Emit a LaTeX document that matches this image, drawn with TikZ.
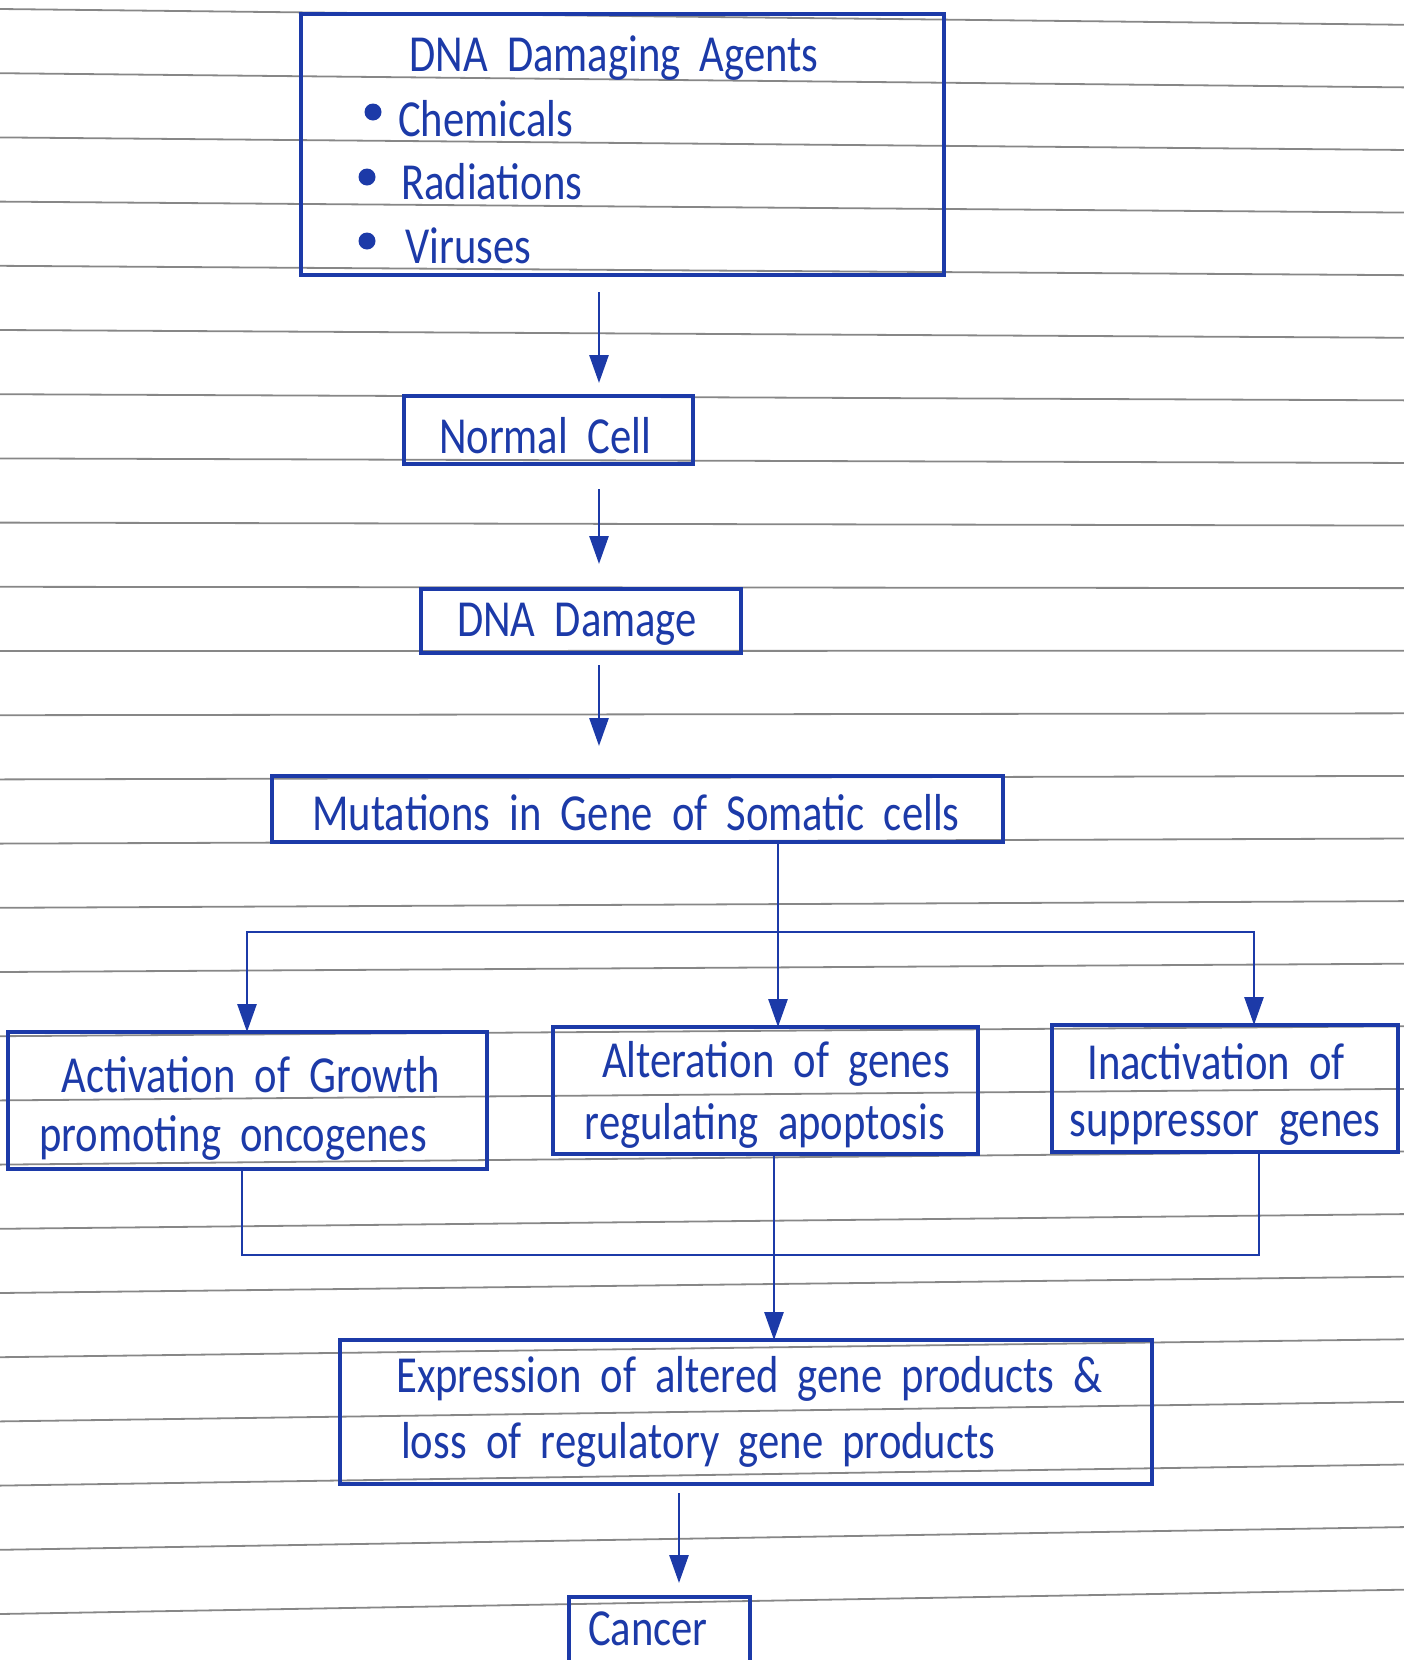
\documentclass[tikz,border=0pt]{standalone}
\usepackage{fontspec}
\setmainfont{Carlito}[FakeStretch=0.82, WordSpace=2]
\usetikzlibrary{calc,arrows.meta}
\definecolor{ink}{RGB}{28,58,168}
\definecolor{rulecol}{RGB}{135,135,135}
\begin{document}
\begin{tikzpicture}[x=1pt,y=-1pt,
  box/.style={draw=ink, line width=3.2pt, inner sep=0pt, outer sep=0pt, rectangle},
  txt/.style={text=ink, font=\fontsize{52}{62}\selectfont, inner sep=0pt},
  conn/.style={draw=ink, line width=2.8pt},
  arr/.style={conn, -{Triangle[length=28pt,width=19pt]}},
  ruled/.style={draw=rulecol, line width=1.8pt}]
\useasboundingbox (0,0) rectangle (1404,1660);
\clip (0,0) rectangle (1404,1660);
% lined paper
\foreach \k in {0,...,25} {
  \pgfmathsetmacro\L{9+64.2*\k}
  \pgfmathsetmacro\R{\L+16-0.025*\L}
  \draw[ruled] (0,\L) -- (1404,\R);
}
% boxes
\node[box, minimum width=643pt, minimum height=261pt] (agents) at (622.5,144.5) {};
\node[box, minimum width=289pt, minimum height=68pt] (normal) at (548.5,430) {};
\node[box, minimum width=320pt, minimum height=64pt] (damage) at (581,621) {};
\node[box, minimum width=731pt, minimum height=66pt] (mut) at (637.5,809) {};
\node[box, minimum width=479pt, minimum height=137pt] (act) at (247.5,1100.5) {};
\node[box, minimum width=425pt, minimum height=127pt] (alt) at (765.5,1090.5) {};
\node[box, minimum width=346pt, minimum height=127pt] (inact) at (1225,1088.5) {};
\node[box, minimum width=812pt, minimum height=144pt] (expr) at (746,1412) {};
\node[box, minimum width=181pt, minimum height=103pt] (cancer) at (659.5,1648.5) {};
% texts
\node[txt] (tagents) at (614,58) {DNA Damaging Agents};
\node[txt, anchor=west] (tchem) at (398,119) {Chemicals};
\node[txt, anchor=west] (trad) at (401,182) {Radiations};
\node[txt, anchor=west] (tvir) at (405,246) {Viruses};
\fill[ink] (373,112) circle (8.5);
\fill[ink] (367,177) circle (8.5);
\fill[ink] (367,241) circle (8.5);
\node[txt] (tnormal) at (545,436) {Normal Cell};
\node[txt] (tdamage) at (577,624) {DNA Damage};
\node[txt] (tmut) at (636,813) {Mutations in Gene of Somatic cells};
\node[txt] (tact1) at (251,1075) {Activation of Growth};
\node[txt] (tact2) at (233,1138) {promoting oncogenes};
\node[txt] (talt1) at (776,1064) {Alteration of genes};
\node[txt] (talt2) at (765,1126) {regulating apoptosis};
\node[txt] (tina1) at (1216,1062) {Inactivation of};
\node[txt] (tina2) at (1225,1128) {suppressor genes};
\node[txt, anchor=west] (texp1) at (396,1379) {Expression of altered gene products \&};
\node[txt, anchor=west] (texp2) at (401,1445) {loss of regulatory gene products};
\node[txt] (tcancer) at (648,1629) {Cancer};
% connector columns
\coordinate (c1) at (599,0);
\coordinate (c2) at (778,0);
\coordinate (cl) at (247,0);
\coordinate (cr) at (1254,0);
\coordinate (bl) at (242,0);
\coordinate (br) at (1259,0);
\coordinate (cm) at (774,0);
\coordinate (c3) at (679,0);
\coordinate (j) at (778,932);
\coordinate (k) at (0,1255);
% connectors
\draw[arr] ([yshift=-17pt]agents.south -| c1) -- ([yshift=13pt]normal.north -| c1);
\draw[arr] ([yshift=-25pt]normal.south -| c1) -- ([yshift=25pt]damage.north -| c1);
\draw[arr] ([yshift=-12pt]damage.south -| c1) -- ([yshift=30pt]mut.north -| c1);
\draw[arr] (mut.south -| c2) -- (alt.north -| c2);
\draw[arr] (j) -| (act.north -| cl);
\draw[arr] (j) -| (inact.north -| cr);
\draw[conn] (act.south -| bl) |- (k -| br) -- (inact.south -| br);
\draw[arr] (alt.south -| cm) -- (expr.north -| cm);
\draw[arr] ([yshift=-9pt]expr.south -| c3) -- ([yshift=14pt]cancer.north -| c3);
\end{tikzpicture}
\end{document}
